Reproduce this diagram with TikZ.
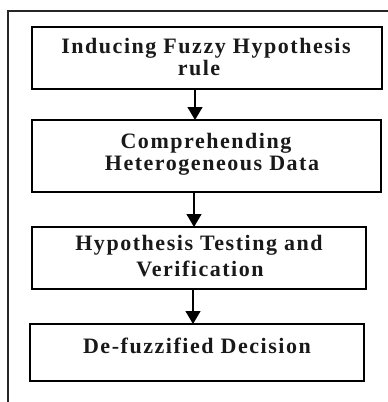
\documentclass[tikz,border=0pt]{standalone}
\usepackage{fontspec}
\setmainfont{Liberation Serif}[LetterSpace=7]
\usetikzlibrary{arrows.meta}
\begin{document}
\begin{tikzpicture}[x=1pt,y=-1pt,
  box/.style={draw=black,line width=1.4pt,rectangle,outer sep=0pt,inner sep=0pt},
  lbl/.style={anchor=base,inner sep=0pt,font=\fontsize{22}{24}\selectfont\bfseries,text=black!90},
  arr/.style={draw=black,line width=1.2pt,-{Triangle[width=15pt,length=13pt]}},
  frame/.style={draw=black!85,line width=1.4pt}]
\useasboundingbox (0,0) rectangle (388,402);
% outer frame (only left and top edges visible)
\coordinate (fa) at (8,402);
\coordinate (fb) at (8,11);
\coordinate (fc) at (388,11);
\draw[frame] (fa) -- (fb) -- (fc);
% boxes
\node[box,minimum width=350pt,minimum height=62pt] (b1) at (207,58) {};
\node[box,minimum width=349pt,minimum height=72pt] (b2) at (206.5,156) {};
\node[box,minimum width=334pt,minimum height=62pt] (b3) at (199,258) {};
\node[box,minimum width=334pt,minimum height=57pt] (b4) at (197,352.5) {};
% texts
\node[lbl] (t1a) at (206,53) {Inducing Fuzzy Hypothesis};
\node[lbl] (t1b) at (199,75) {rule};
\node[lbl] (t2a) at (206,148) {Comprehending};
\node[lbl] (t2b) at (212,170) {Heterogeneous Data};
\node[lbl] (t3a) at (199,250) {Hypothesis Testing and};
\node[lbl] (t3b) at (200,276) {Verification};
\node[lbl] (t4a) at (197,353) {De-fuzzified Decision};
% arrows
\coordinate (x1) at (195,0);
\coordinate (x2) at (194,0);
\coordinate (x3) at (193,0);
\draw[arr] (b1.south -| x1) -- (b2.north -| x1);
\draw[arr] (b2.south -| x2) -- (b3.north -| x2);
\draw[arr] (b3.south -| x3) -- (b4.north -| x3);
\end{tikzpicture}
\end{document}
